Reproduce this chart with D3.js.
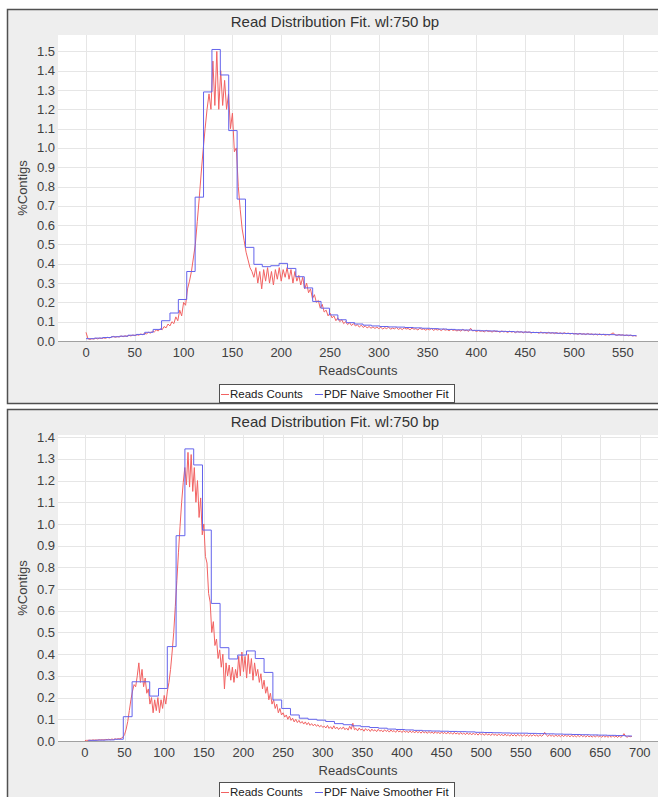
<!DOCTYPE html>
<html>
<head>
<meta charset="utf-8">
<script src="https://d3js.org/d3.v7.min.js"></script>
<style>
  body { margin: 0; background: #ffffff; }
  svg { display: block; font-family: "Liberation Sans", Arial, sans-serif; }
</style>
</head>
<body>
<div id="chart"></div>
<script>
// Text
const chartTitle = "Read Distribution Fit. wl:750 bp";
const xLabel = "ReadsCounts";
const yLabel = "%Contigs";
const seriesNames = ["Reads Counts", "PDF Naive Smoother Fit"];

// Top chart: reads counts sampled every 2 reads, from 0
const topReadsStep = 2;
const topReads = [
  0.045,0.012,0.008,0.012,0.010,0.014,0.011,0.015,0.013,0.016,
  0.014,0.019,0.016,0.02,0.024,0.019,0.023,0.021,0.026,0.022,
  0.027,0.024,0.029,0.026,0.031,0.028,0.033,0.03,0.036,0.033,
  0.04,0.037,0.045,0.041,0.05,0.047,0.057,0.052,0.064,0.058,
  0.075,0.068,0.088,0.078,0.1,0.09,0.125,0.105,0.16,0.13,
  0.2,0.185,0.27,0.31,0.36,0.43,0.5,0.62,0.74,0.87,
  0.99,1.1,1.2,1.28,1.2,1.45,1.22,1.5,1.2,1.4,
  1.22,1.35,1.2,1.28,1.1,1.18,0.98,1.0,0.8,0.68,
  0.58,0.52,0.46,0.42,0.38,0.36,0.33,0.38,0.3,0.36,
  0.27,0.37,0.31,0.38,0.3,0.36,0.29,0.37,0.32,0.38,
  0.31,0.37,0.33,0.38,0.32,0.37,0.3,0.36,0.31,0.34,
  0.29,0.33,0.27,0.3,0.25,0.27,0.22,0.24,0.2,0.21,
  0.17,0.19,0.15,0.16,0.13,0.145,0.12,0.13,0.105,0.12,
  0.1,0.11,0.09,0.1,0.085,0.095,0.08,0.09,0.078,0.085,
  0.072,0.082,0.07,0.078,0.068,0.075,0.066,0.073,0.065,0.072,
  0.064,
  0.071,0.062,0.069,0.064,0.072,0.061,0.067,0.063,0.07,0.06,
  0.066,0.059,0.068,0.062,0.065,0.058,0.067,0.061,0.064,0.057,
  0.066,0.06,0.063,0.056,0.062,0.058,0.065,0.055,0.061,0.057,
  0.06,0.054,0.062,0.056,0.059,0.053,0.061,0.055,0.058,0.052,
  0.057,0.051,0.06,0.053,0.056,0.05,0.066,0.052,0.055,0.049,
  0.054,0.05,0.053,0.047,0.055,0.049,0.052,0.046,0.053,0.048,
  0.051,0.045,0.052,0.047,0.05,0.044,0.051,0.046,0.049,0.043,
  0.05,0.045,0.048,0.042,0.049,0.044,0.047,0.041,0.046,0.043,
  0.045,0.04,0.047,0.041,0.044,0.039,0.045,0.04,0.043,0.038,
  0.044,0.039,0.042,0.037,0.043,0.038,0.041,0.036,0.04,0.037,
  0.039,0.034,0.04,0.035,0.038,0.033,0.039,0.034,0.037,0.032,
  0.036,0.031,0.037,0.032,0.035,0.03,0.034,0.031,0.036,0.042,
  0.033,0.029,0.034,0.03,0.032,0.028,0.031,0.027,0.03,0.026,
  0.028,0.025
];
// Top chart: smoother fit, one value per bin
const topFitStart = 0;
const topFitWidth = 8.6;
const topFitEnd = 564;
const topFit = [
  0.012,0.015,0.018,0.022,0.025,0.03,0.034,0.045,0.06,0.105,
  0.145,0.215,0.36,0.745,1.29,1.51,1.378,1.09,0.735,0.485,
  0.397,0.385,0.39,0.402,0.376,0.333,0.275,0.205,0.17,0.135,
  0.11,0.095,0.088,0.082,0.078,0.075,0.073,0.072,0.07,0.068,
  0.066,0.064,0.062,0.06,0.058,0.057,0.055,0.053,0.052,0.05,
  0.049,0.047,0.046,0.044,0.043,0.042,0.04,0.039,0.037,0.036,
  0.035,0.034,0.033,0.031,0.03,0.028
];
const topXTicks = [0,50,100,150,200,250,300,350,400,450,500,550];
const topYTicks = [0,0.1,0.2,0.3,0.4,0.5,0.6,0.7,0.8,0.9,1.0,1.1,1.2,1.3,1.4,1.5];
const topXDomain = [-28.7, 586];
const topYDomain = [0, 1.585];

// Bottom chart
const bottomReadsStep = 2;
const bottomReads = [
  0.002,0.003,0.003,0.004,0.003,0.005,0.004,0.005,0.004,0.006,
  0.005,0.006,0.005,0.007,0.006,0.008,0.006,0.009,0.007,0.01,
  0.008,0.011,0.01,0.013,0.018,0.03,0.055,0.09,0.14,0.19,
  0.23,0.26,0.25,0.3,0.36,0.27,0.33,0.25,0.29,0.22,
  0.24,0.17,0.2,0.13,0.19,0.14,0.2,0.13,0.19,0.15,
  0.21,0.17,0.23,0.27,0.33,0.41,0.5,0.62,0.74,0.87,
  0.99,1.1,1.19,1.26,1.18,1.33,1.17,1.32,1.15,1.26,
  1.1,1.2,1.03,1.12,0.95,1.0,0.85,0.82,0.68,0.64,
  0.5,0.55,0.44,0.47,0.38,0.42,0.34,0.4,0.24,0.36,
  0.3,0.35,0.28,0.34,0.27,0.33,0.29,0.39,0.3,0.41,
  0.32,0.39,0.29,0.4,0.31,0.38,0.28,0.36,0.3,0.33,
  0.27,0.31,0.24,0.28,0.22,0.25,0.19,0.22,0.17,0.19,
  0.15,0.17,0.13,0.15,0.12,0.13,0.11,0.12,0.1,0.115,
  0.095,0.105,0.088,0.1,0.085,0.095,0.082,0.09,0.078,0.088,
  0.075,0.085,0.072,0.08,0.07,0.078,0.068,0.075,0.065,0.072,
  0.063,
  0.068,0.06,0.072,0.058,0.066,0.055,0.07,0.056,0.064,0.053,
  0.062,0.055,0.065,0.052,0.06,0.05,0.068,0.054,0.082,0.052,
  0.058,0.047,0.06,0.05,0.056,0.045,0.057,0.048,0.054,0.044,
  0.055,0.046,0.052,0.043,0.054,0.045,0.05,0.042,0.052,0.044,
  0.049,0.041,0.051,0.043,0.048,0.04,0.05,0.042,0.047,0.039,
  0.048,0.04,0.046,0.038,0.047,0.039,0.045,0.037,0.046,0.038,
  0.044,0.036,0.045,0.037,0.043,0.035,0.044,0.036,0.042,0.034,
  0.043,0.035,0.041,0.033,0.042,0.034,0.04,0.032,0.041,0.033,
  0.039,0.031,0.04,0.032,0.038,0.03,0.039,0.031,0.037,0.029,
  0.038,0.03,0.036,0.028,0.037,0.029,0.035,0.027,0.036,0.028,
  0.034,0.026,0.035,0.027,0.033,0.025,0.034,0.026,0.032,0.024,
  0.033,0.025,0.031,0.023,0.032,0.024,0.03,0.022,0.031,0.023,
  0.03,0.022,0.031,0.024,0.029,0.022,0.03,0.023,0.028,0.021,
  0.029,0.022,0.03,0.023,0.028,0.021,0.029,0.022,0.027,0.04,
  0.028,0.021,0.029,0.022,0.027,0.02,0.028,0.021,0.026,0.02,
  0.027,0.02,0.028,0.021,0.026,0.019,0.027,0.02,0.025,0.019,
  0.026,0.019,0.027,0.02,0.025,0.018,0.026,0.019,0.024,0.018,
  0.025,0.018,0.026,0.019,0.024,0.017,0.025,0.018,0.023,0.017,
  0.024,0.017,0.025,0.018,0.023,0.016,0.024,0.017,0.022,0.034,
  0.023,0.017,0.022,0.02,0.021
];
const bottomFitStart = 4;
const bottomFitWidth = 11.1;
const bottomFitEnd = 690;
const bottomFit = [
  0.003,0.004,0.005,0.008,0.112,0.273,0.273,0.207,0.242,0.435,
  0.946,1.346,1.272,0.972,0.634,0.43,0.378,0.396,0.415,0.38,
  0.316,0.189,0.15,0.12,0.105,0.1,0.096,0.09,0.08,0.075,
  0.07,0.066,0.062,0.059,0.055,0.053,0.051,0.049,0.047,0.046,
  0.045,0.044,0.043,0.042,0.04,0.039,0.038,0.037,0.036,0.036,
  0.035,0.034,0.033,0.032,0.031,0.03,0.029,0.028,0.027,0.026,
  0.025,0.023
];
const bottomXTicks = [0,50,100,150,200,250,300,350,400,450,500,550,600,650,700];
const bottomYTicks = [0,0.1,0.2,0.3,0.4,0.5,0.6,0.7,0.8,0.9,1.0,1.1,1.2,1.3,1.4];
const bottomXDomain = [-34, 723];
const bottomYDomain = [0, 1.41];

// Layout
const width = 658;
const height = 797;
const panelW = 656;
const panelH = 394;
const plot = { left: 58, right: 658, top: 26, bottom: 332 };
const readsColor = "#f26262";
const fitColor = "#6464ec";

const svg = d3
  .select("#chart")
  .append("svg")
  .attr("width", width)
  .attr("height", height);

function drawPanel(id, top, legendY, reads, readsStep, fit, fitStart, fitWidth, fitEnd,
                   xTicks, yTicks, xDomain, yDomain) {
  const g = svg.append("g").attr("transform", `translate(0,${top})`);

  g.append("rect")
    .attr("x", 7.5).attr("y", 0.5)
    .attr("width", panelW).attr("height", panelH)
    .attr("fill", "#eeeeee")
    .attr("stroke", "#505050")
    .attr("stroke-width", 1.5);

  const x = d3.scaleLinear().domain(xDomain).range([plot.left, plot.right]);
  const y = d3.scaleLinear().domain(yDomain).range([plot.bottom, plot.top]);

  // Plot background
  g.append("rect")
    .attr("x", plot.left).attr("y", plot.top)
    .attr("width", plot.right - plot.left)
    .attr("height", plot.bottom - plot.top)
    .attr("fill", "#ffffff");

  // Grid
  g.append("g")
    .selectAll("line")
    .data(xTicks)
    .join("line")
    .attr("x1", (d) => Math.round(x(d)) + 0.5)
    .attr("x2", (d) => Math.round(x(d)) + 0.5)
    .attr("y1", plot.top)
    .attr("y2", plot.bottom)
    .attr("stroke", "#e6e6e6");
  g.append("g")
    .selectAll("line")
    .data(yTicks)
    .join("line")
    .attr("x1", plot.left)
    .attr("x2", plot.right)
    .attr("y1", (d) => Math.round(y(d)) + 0.5)
    .attr("y2", (d) => Math.round(y(d)) + 0.5)
    .attr("stroke", "#e6e6e6");

  // Axis line
  g.append("line")
    .attr("x1", plot.left).attr("x2", plot.right)
    .attr("y1", plot.bottom + 0.5).attr("y2", plot.bottom + 0.5)
    .attr("stroke", "#a0a0a0");

  // Tick labels
  g.append("g")
    .selectAll("text")
    .data(xTicks)
    .join("text")
    .attr("x", (d) => x(d))
    .attr("y", plot.bottom + 15.5)
    .attr("text-anchor", "middle")
    .attr("font-size", 13)
    .attr("fill", "#404040")
    .text((d) => d);
  g.append("g")
    .selectAll("text")
    .data(yTicks)
    .join("text")
    .attr("x", 55)
    .attr("y", (d) => y(d))
    .attr("dy", "0.35em")
    .attr("text-anchor", "end")
    .attr("font-size", 13)
    .attr("fill", "#404040")
    .text(d3.format(".1f"));

  // Axis labels and title
  g.append("text")
    .attr("x", (plot.left + plot.right) / 2)
    .attr("y", plot.bottom + 34)
    .attr("text-anchor", "middle")
    .attr("font-size", 13)
    .attr("fill", "#404040")
    .text(xLabel);
  g.append("text")
    .attr("transform", `translate(27,${(plot.top + plot.bottom) / 2}) rotate(-90)`)
    .attr("text-anchor", "middle")
    .attr("font-size", 13)
    .attr("fill", "#404040")
    .text(yLabel);
  g.append("text")
    .attr("x", 335)
    .attr("y", 18)
    .attr("text-anchor", "middle")
    .attr("font-size", 15)
    .attr("fill", "#333333")
    .text(chartTitle);

  // Series
  g.append("clipPath")
    .attr("id", id)
    .append("rect")
    .attr("x", plot.left).attr("y", plot.top)
    .attr("width", plot.right - plot.left)
    .attr("height", plot.bottom - plot.top);

  const readsPoints = reads.map((v, i) => [i * readsStep, v]);
  const fitPoints = fit.map((v, i) => [fitStart + i * fitWidth, v]);
  fitPoints.push([fitEnd, fit[fit.length - 1]]);

  const line = d3.line().x((d) => x(d[0])).y((d) => y(d[1]));
  const stepLine = d3.line().x((d) => x(d[0])).y((d) => y(d[1])).curve(d3.curveStepAfter);

  const series = g.append("g").attr("clip-path", `url(#${id})`);
  series.append("path")
    .attr("d", line(readsPoints))
    .attr("fill", "none")
    .attr("stroke", readsColor)
    .attr("stroke-width", 1);
  series.append("path")
    .attr("d", stepLine(fitPoints))
    .attr("fill", "none")
    .attr("stroke", fitColor)
    .attr("stroke-width", 1);

  // Legend
  const legend = g.append("g").attr("transform", `translate(0,${legendY})`);
  legend.append("rect")
    .attr("x", 219.5).attr("y", 0.5)
    .attr("width", 235).attr("height", 18)
    .attr("fill", "#ffffff")
    .attr("stroke", "#505050");
  const items = [
    { name: seriesNames[0], color: readsColor, x0: 221, tx: 230 },
    { name: seriesNames[1], color: fitColor, x0: 315, tx: 324 },
  ];
  items.forEach((d) => {
    legend.append("line")
      .attr("x1", d.x0).attr("x2", d.x0 + 8)
      .attr("y1", 10.5).attr("y2", 10.5)
      .attr("stroke", d.color);
    legend.append("text")
      .attr("x", d.tx)
      .attr("y", 14)
      .attr("font-size", 11.5)
      .attr("fill", "#202020")
      .text(d.name);
  });
}

drawPanel("clipTop", 9, 375, topReads, topReadsStep, topFit, topFitStart, topFitWidth, topFitEnd,
  topXTicks, topYTicks, topXDomain, topYDomain);
drawPanel("clipBottom", 409, 373, bottomReads, bottomReadsStep, bottomFit, bottomFitStart,
  bottomFitWidth, bottomFitEnd, bottomXTicks, bottomYTicks, bottomXDomain, bottomYDomain);
</script>
</body>
</html>
